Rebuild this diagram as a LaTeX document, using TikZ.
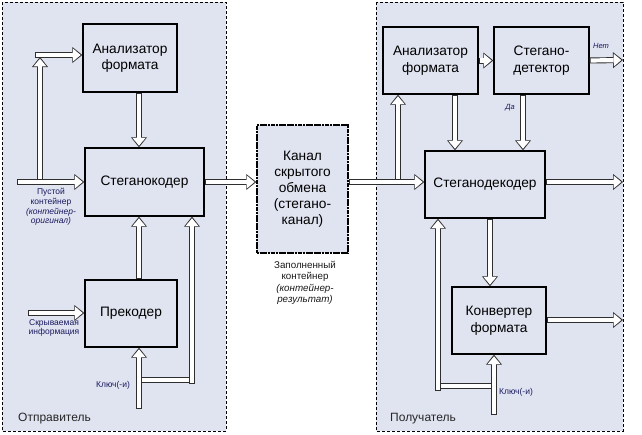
\documentclass[tikz,border=0pt]{standalone}
\usepackage{fontspec}
\setmainfont{Liberation Sans}
\usetikzlibrary{arrows.meta,calc}
\definecolor{panelbg}{RGB}{224,227,240}
\definecolor{navy}{RGB}{25,25,95}
\tikzset{
  panel/.style={draw=black, line width=0.8pt, dash pattern=on 3pt off 2pt, fill=panelbg},
  blk/.style={draw=black, line width=1.3pt, fill=panelbg, align=center, font=\fontsize{13.7}{16.5}\selectfont, inner sep=2pt},
  chanbox/.style={draw=black, line width=1.5pt, dash pattern=on 2.2pt off 0.5pt, fill=panelbg, align=center, font=\fontsize{13.7}{16}\selectfont},
  pipe/.style={draw=black!82, line width=6pt,
    postaction={draw=white, line width=4.2pt, shorten <=0.9pt, shorten >=0.9pt}},
  arr/.style={draw=black!82, line width=6pt, -{Triangle[length=10pt,width=16pt,line width=0pt]},
    postaction={draw=white, line width=4.2pt, shorten <=0.9pt, shorten >=1.7pt,
      -{Triangle[length=7.6pt,width=12.8pt,line width=0pt,fill=white]}}},
  lbl/.style={align=center, font=\fontsize{8.5}{9.6}\selectfont, text=navy, inner sep=0pt},
  plbl/.style={anchor=west, font=\fontsize{12}{14}\selectfont, text=black!85, inner sep=0pt}
}
\begin{document}
\begin{tikzpicture}[x=1pt,y=-1pt]
\useasboundingbox (0,0) rectangle (642,434);
% panels
\path[panel] (2,2) rectangle (226,431);
\path[panel] (376,2) rectangle (623,431);
\node[plbl] (sender) at (18,419) {Отправитель};
\node[plbl] (receiver) at (390,419) {Получатель};

% left blocks
\node[blk, minimum width=94pt, minimum height=68pt] (ana1) at (130,58) {Анализатор\\формата};
\node[blk, minimum width=119pt, minimum height=68pt] (enc) at (144.5,182) {Стеганокодер};
\node[blk, minimum width=92pt, minimum height=67pt] (pre) at (131,313.5) {Прекодер};
% channel
\node[chanbox, minimum width=91pt, minimum height=128pt] (chan) at (302.5,189) {Канал\\скрытого\\обмена\\(стегано-\\канал)};
% right blocks
\node[blk, minimum width=95pt, minimum height=67pt] (ana2) at (430.5,60.5) {Анализатор\\формата};
\node[blk, minimum width=95pt, minimum height=67pt] (det) at (541.5,60.5) {Стегано-\\детектор};
\node[blk, minimum width=120pt, minimum height=67pt] (dec) at (485,184.5) {Стеганодекодер};
\node[blk, minimum width=94pt, minimum height=67pt] (conv) at (499,320.5) {Конвертер\\формата};

% coordinates
\coordinate (in1) at (17,182);
\coordinate (j1) at (40,182);
\coordinate (j1t) at (40,57);
\coordinate (h1) at (35,55);
\coordinate (hin) at (28,313);
\coordinate (key1) at (139,409);
\coordinate (kb1) at (139,380);
\coordinate (kb2) at (195,380);
\coordinate (kb3) at (192,384);
\coordinate (j2) at (398,182);
\coordinate (no) at (623,60);
\coordinate (out2) at (623,182);
\coordinate (out3) at (623,320);
\coordinate (key2) at (494,415);
\coordinate (kc1) at (494,386);
\coordinate (kc2) at (437,386);
\coordinate (kc3) at (438,391);

% left connectors
\draw[arr] (j1) -- (j1t);
\draw[arr] (in1) -- (in1 -| enc.west);
\draw[arr] (h1) -- (h1 -| ana1.west);
\draw[arr] ([xshift=9pt]ana1.south) -- ([xshift=9pt]ana1.south |- enc.north);
\draw[arr] ([xshift=8pt]pre.north) -- ([xshift=8pt]pre.north |- enc.south);
\draw[arr] (hin) -- (hin -| pre.west);
\draw[pipe] (kb1) -- (kb2);
\draw[arr] (key1) -- (key1 |- pre.south);
\draw[arr] (kb3) -- (kb3 |- enc.south);
\draw[arr] (enc.east) -- (enc.east -| chan.west);

% channel to receiver
\draw[arr] (j2) -- (j2 |- ana2.south);
\draw[arr] ([yshift=7pt]chan.east) -- ([yshift=7pt]chan.east -| dec.west);

% right connectors
\draw[arr] (ana2.east) -- (det.west);
\draw[arr] (det.east) -- (no);
\draw[arr] ([xshift=24.5pt]ana2.south) -- ([xshift=24.5pt]ana2.south |- dec.north);
\draw[arr] ([xshift=-18.5pt]det.south) -- ([xshift=-18.5pt]det.south |- dec.north);
\draw[arr] (out2 -| dec.east) -- (out2);
\draw[arr] ([xshift=5pt]dec.south) -- ([xshift=5pt]dec.south |- conv.north);
\draw[arr] (out3 -| conv.east) -- (out3);
\draw[pipe] (kc1) -- (kc2);
\draw[arr] (key2) -- (key2 |- conv.south);
\draw[arr] (kc3) -- (kc3 |- dec.south);

% labels
\node[lbl] (l1) at (51,207) {Пустой\\контейнер\\\textit{(контейнер-}\\\textit{оригинал)}};
\node[lbl] (l2) at (54,328) {Скрываемая\\информация};
\node[lbl] (l3) at (113,385) {Ключ(-и)};
\node[lbl, text=black!90, font=\fontsize{9.8}{11.5}\selectfont] (l4) at (305,283) {Заполненный\\контейнер\\\textit{(контейнер-}\\\textit{результат)}};
\node[lbl] (l5) at (516,392) {Ключ(-и)};
\node[lbl, font=\fontsize{7.5}{9}\selectfont\itshape] (l6) at (601,46) {Нет};
\node[lbl, font=\fontsize{7.5}{9}\selectfont\itshape] (l7) at (510,108) {Да};
\end{tikzpicture}
\end{document}
